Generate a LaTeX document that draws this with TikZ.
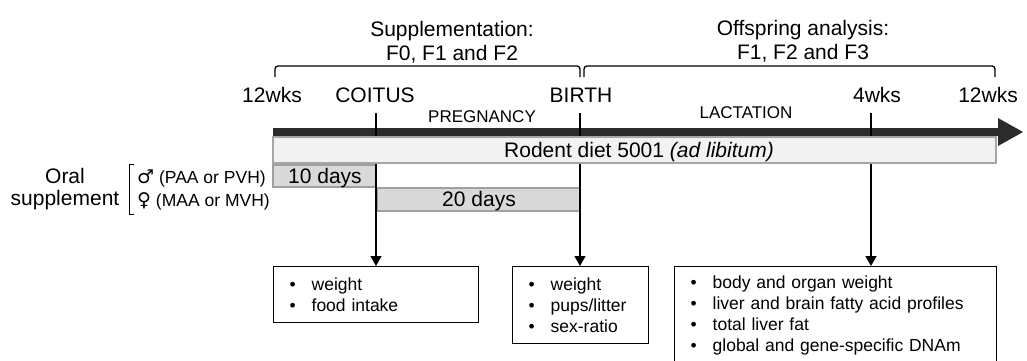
\documentclass[tikz,border=0pt]{standalone}
\usepackage{fontspec}
\setmainfont{Liberation Sans}
\newfontfamily\sexsym{DejaVu Sans}
\usetikzlibrary{arrows.meta}
\definecolor{bardark}{HTML}{2B2B2B}
\definecolor{dietfill}{HTML}{F2F2F2}
\definecolor{dietline}{HTML}{A6A6A6}
\definecolor{dayfill}{HTML}{D9D9D9}
\definecolor{dayline}{HTML}{A0A0A0}
\newcommand\itm[1]{\makebox[22pt][l]{\textbullet}#1}
\newcommand\sx[1]{{\sexsym\fontsize{19}{20}\selectfont #1}}
\begin{document}
\begin{tikzpicture}[x=1pt,y=-1pt,
  big/.style={font=\fontsize{21}{24}\selectfont,inner sep=0pt,align=center},
  phase/.style={font=\fontsize{17}{20}\selectfont,inner sep=0pt,anchor=base},
  sexline/.style={font=\fontsize{17.5}{20}\selectfont,inner sep=0pt,anchor=base west},
  daybox/.style={draw=dayline,fill=dayfill,line width=1.3pt},
  brace/.style={line width=1.3pt,rounded corners=3pt},
  conn/.style={line width=1.5pt,-{Triangle[width=11pt,length=10pt]}},
  outbox/.style={draw,line width=1.3pt,anchor=north west,inner xsep=16pt,inner ysep=0pt,
    align=left,font=\fontsize{17.5}{21}\selectfont}]
\useasboundingbox (0,0) rectangle (1027,361);
\node[big,anchor=south] (supp) at (452,63) {Supplementation:\\F0, F1 and F2};
\node[big,anchor=south] (offs) at (803,62) {Offspring analysis:\\F1, F2 and F3};
\draw[brace] (275,77) -- (275,66) -- (580,66) -- (580,77);
\draw[brace] (584,77) -- (584,66) -- (995,66) -- (995,77);
\node[big,anchor=base] (w0) at (272,102) {12wks};
\node[big,anchor=base] (coit) at (375,102) {COITUS};
\node[big,anchor=base] (birth) at (581,102) {BIRTH};
\node[big,anchor=base] (w4) at (877,102) {4wks};
\node[big,anchor=base] (w12) at (988,102) {12wks};
\node[phase] (preg) at (482,122) {PREGNANCY};
\node[phase] (lact) at (746,118) {LACTATION};
\fill[bardark] (273,128) rectangle (1000,136);
\fill[bardark] (998,118) -- (1023,132) -- (998,146) -- cycle;
\draw[daybox] (273,165) rectangle (376,187);
\draw[daybox] (377,188) rectangle (580,211);
\node[big,anchor=base] (d10) at (325,183) {10 days};
\node[big,anchor=base] (d20) at (479,206) {20 days};
\node[big,anchor=base] (oral) at (65,183) {Oral};
\node[big,anchor=base] (suppl) at (65,205) {supplement};
\draw[line width=1pt] (134,164) -- (129,164) -- (129,214) -- (134,214);
\node[sexline] (male) at (137,183) {\sx{♂} (PAA or PVH)};
\node[sexline] (female) at (137,206) {\sx{♀} (MAA or MVH)};
\node[outbox,text width=173pt,minimum height=56pt] (b1) at (273,266)
  {\itm{weight}\\\itm{food intake}};
\node[outbox,text width=104pt,minimum height=77pt] (b2) at (512,266)
  {\itm{weight}\\\itm{pups/litter}\\\itm{sex-ratio}};
\node[outbox,text width=290pt,minimum height=98pt] (b3) at (674,266)
  {\itm{body and organ weight}\\\itm{liver and brain fatty acid profiles}\\\itm{total liver fat}\\\itm{global and gene-specific DNAm}};
\coordinate (tc) at (376,113);
\coordinate (tb) at (580,113);
\coordinate (t4) at (871,113);
\draw[conn] (tc) -- (tc |- b1.north);
\draw[conn] (tb) -- (tb |- b2.north);
\draw[conn] (t4) -- (t4 |- b3.north);
\draw[draw=dietline,fill=dietfill,line width=1.3pt] (273,137) rectangle (996,163);
\node[big,anchor=base] (diet) at (639,157) {Rodent diet 5001 \textit{(ad libitum)}};
\end{tikzpicture}
\end{document}
